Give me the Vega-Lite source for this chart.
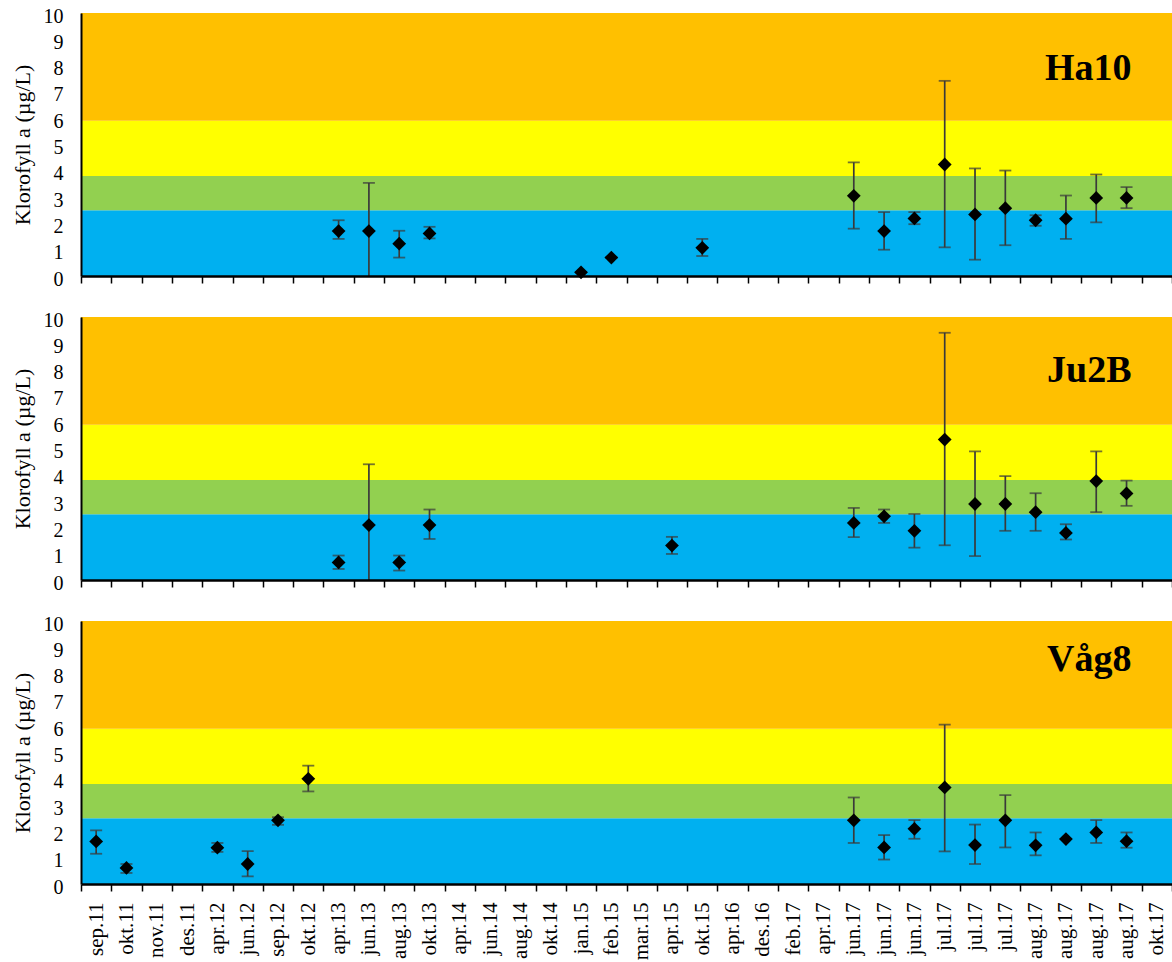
{
  "$schema": "https://vega.github.io/schema/vega-lite/v6.json",
  "padding": {"left": 11, "top": 6, "right": 0, "bottom": 0},
  "autosize": {"type": "pad"},
  "bounds": "flush",
  "spacing": 41,
  "config": {
    "view": {"stroke": null},
    "font": "Liberation Serif",
    "axis": {"grid": false, "zindex": 1, "labelColor": "black", "titleColor": "black", "labelFont": "Liberation Serif", "titleFont": "Liberation Serif", "domainColor": "black"}
  },
  "datasets": {
    "bands": [
      {"klasse": "I", "lo": 0, "hi": 2.5},
      {"klasse": "II", "lo": 2.5, "hi": 3.8},
      {"klasse": "III", "lo": 3.8, "hi": 5.9},
      {"klasse": "IV", "lo": 5.9, "hi": 10}
    ],
    "obs": [
      {"station": "Ha10", "sample": "apr.13", "v": 1.71, "lo": 1.41, "hi": 2.12},
      {"station": "Ha10", "sample": "jun.13", "v": 1.71, "lo": -0.12, "hi": 3.54},
      {"station": "Ha10", "sample": "aug.13", "v": 1.23, "lo": 0.70, "hi": 1.72},
      {"station": "Ha10", "sample": "okt.13", "v": 1.62, "lo": 1.43, "hi": 1.87},
      {"station": "Ha10", "sample": "jan.15", "v": 0.14, "lo": 0.14, "hi": 0.14},
      {"station": "Ha10", "sample": "feb.15", "v": 0.70, "lo": 0.70, "hi": 0.70},
      {"station": "Ha10", "sample": "okt.15", "v": 1.07, "lo": 0.76, "hi": 1.41},
      {"station": "Ha10", "sample": "jun.17 a", "v": 3.05, "lo": 1.80, "hi": 4.32},
      {"station": "Ha10", "sample": "jun.17 b", "v": 1.71, "lo": 1.00, "hi": 2.43},
      {"station": "Ha10", "sample": "jun.17 c", "v": 2.19, "lo": 1.97, "hi": 2.43},
      {"station": "Ha10", "sample": "jul.17 a", "v": 4.24, "lo": 1.09, "hi": 7.42},
      {"station": "Ha10", "sample": "jul.17 b", "v": 2.34, "lo": 0.62, "hi": 4.09},
      {"station": "Ha10", "sample": "jul.17 c", "v": 2.58, "lo": 1.17, "hi": 4.01},
      {"station": "Ha10", "sample": "aug.17 a", "v": 2.12, "lo": 1.91, "hi": 2.31},
      {"station": "Ha10", "sample": "aug.17 b", "v": 2.18, "lo": 1.41, "hi": 3.06},
      {"station": "Ha10", "sample": "aug.17 c", "v": 2.97, "lo": 2.04, "hi": 3.86},
      {"station": "Ha10", "sample": "aug.17 d", "v": 2.97, "lo": 2.58, "hi": 3.38},
      {"station": "Ju2B", "sample": "apr.13", "v": 0.67, "lo": 0.42, "hi": 0.93},
      {"station": "Ju2B", "sample": "jun.13", "v": 2.09, "lo": -0.22, "hi": 4.40},
      {"station": "Ju2B", "sample": "aug.13", "v": 0.67, "lo": 0.36, "hi": 0.93},
      {"station": "Ju2B", "sample": "okt.13", "v": 2.09, "lo": 1.56, "hi": 2.68},
      {"station": "Ju2B", "sample": "apr.15", "v": 1.31, "lo": 0.99, "hi": 1.64},
      {"station": "Ju2B", "sample": "jun.17 a", "v": 2.17, "lo": 1.63, "hi": 2.74},
      {"station": "Ju2B", "sample": "jun.17 b", "v": 2.42, "lo": 2.17, "hi": 2.68},
      {"station": "Ju2B", "sample": "jun.17 c", "v": 1.87, "lo": 1.23, "hi": 2.51},
      {"station": "Ju2B", "sample": "jul.17 a", "v": 5.34, "lo": 1.32, "hi": 9.40},
      {"station": "Ju2B", "sample": "jul.17 b", "v": 2.89, "lo": 0.91, "hi": 4.89},
      {"station": "Ju2B", "sample": "jul.17 c", "v": 2.89, "lo": 1.87, "hi": 3.95},
      {"station": "Ju2B", "sample": "aug.17 a", "v": 2.58, "lo": 1.87, "hi": 3.30},
      {"station": "Ju2B", "sample": "aug.17 b", "v": 1.79, "lo": 1.54, "hi": 2.12},
      {"station": "Ju2B", "sample": "aug.17 c", "v": 3.76, "lo": 2.58, "hi": 4.89},
      {"station": "Ju2B", "sample": "aug.17 d", "v": 3.29, "lo": 2.82, "hi": 3.78},
      {"station": "Våg8", "sample": "sep.11", "v": 1.62, "lo": 1.15, "hi": 2.04},
      {"station": "Våg8", "sample": "okt.11", "v": 0.61, "lo": 0.42, "hi": 0.76},
      {"station": "Våg8", "sample": "apr.12", "v": 1.38, "lo": 1.22, "hi": 1.56},
      {"station": "Våg8", "sample": "jun.12", "v": 0.76, "lo": 0.29, "hi": 1.25},
      {"station": "Våg8", "sample": "sep.12", "v": 2.42, "lo": 2.25, "hi": 2.54},
      {"station": "Våg8", "sample": "okt.12", "v": 4.00, "lo": 3.52, "hi": 4.50},
      {"station": "Våg8", "sample": "jun.17 a", "v": 2.42, "lo": 1.56, "hi": 3.29},
      {"station": "Våg8", "sample": "jun.17 b", "v": 1.39, "lo": 0.93, "hi": 1.86},
      {"station": "Våg8", "sample": "jun.17 c", "v": 2.10, "lo": 1.72, "hi": 2.43},
      {"station": "Våg8", "sample": "jul.17 a", "v": 3.67, "lo": 1.24, "hi": 6.06},
      {"station": "Våg8", "sample": "jul.17 b", "v": 1.48, "lo": 0.76, "hi": 2.26},
      {"station": "Våg8", "sample": "jul.17 c", "v": 2.42, "lo": 1.39, "hi": 3.38},
      {"station": "Våg8", "sample": "aug.17 a", "v": 1.47, "lo": 1.09, "hi": 1.96},
      {"station": "Våg8", "sample": "aug.17 b", "v": 1.71, "lo": 1.71, "hi": 1.71},
      {"station": "Våg8", "sample": "aug.17 c", "v": 1.96, "lo": 1.56, "hi": 2.43},
      {"station": "Våg8", "sample": "aug.17 d", "v": 1.63, "lo": 1.38, "hi": 1.96}
    ]
  },
  "vconcat": [
    {
      "width": 1091, "height": 263,
      "layer": [
        {"data": {"name": "bands"}, "mark": {"type": "rect"},
         "encoding": {
           "y": {"field": "lo", "type": "quantitative", "scale": {"domain": [0, 10], "nice": false, "zero": true}, "axis": {"title": "Klorofyll a (µg/L)", "values": [0,1,2,3,4,5,6,7,8,9,10], "labelOverlap": false, "ticks": false, "labelPadding": 18, "labelOffset": 3, "labelFontSize": 20, "labelFont": "Liberation Serif", "labelColor": "black", "titleFont": "Liberation Serif", "titleFontSize": 22, "titleFontWeight": "normal", "titleColor": "black", "titlePadding": 9, "domainColor": "black", "domainWidth": 2, "grid": false, "zindex": 1}},
           "y2": {"field": "hi"},
           "color": {"field": "klasse", "type": "nominal", "scale": {"domain": ["I","II","III","IV"], "range": ["#00B0F0","#92D050","#FFFF00","#FFC000"]}, "legend": null}}},
        {"data": {"name": "obs"}, "transform": [{"filter": "datum.station === 'Ha10'"}],
         "mark": {"type": "rule", "clip": true, "color": "#3a3a3a", "strokeWidth": 1.7},
         "encoding": {
           "x": {"field": "sample", "type": "ordinal", "scale": {"type": "band", "paddingInner": 0, "paddingOuter": 0, "domain": ["sep.11","okt.11","nov.11","des.11","apr.12","jun.12","sep.12","okt.12","apr.13","jun.13","aug.13","okt.13","apr.14","jun.14","aug.14","okt.14","jan.15","feb.15","mar.15","apr.15","okt.15","apr.16","des.16","feb.17","apr.17","jun.17 a","jun.17 b","jun.17 c","jul.17 a","jul.17 b","jul.17 c","aug.17 a","aug.17 b","aug.17 c","aug.17 d","okt.17"]}, "axis": {"title": null, "labels": false, "tickBand": "extent", "tickSize": 7, "tickColor": "black", "tickWidth": 1.5, "domainColor": "black", "domainWidth": 2.5, "grid": false, "zindex": 1}},
           "y": {"field": "lo", "type": "quantitative", "axis": {"title": "Klorofyll a (µg/L)", "values": [0,1,2,3,4,5,6,7,8,9,10], "labelOverlap": false, "ticks": false, "labelPadding": 18, "labelOffset": 3, "labelFontSize": 20, "labelFont": "Liberation Serif", "labelColor": "black", "titleFont": "Liberation Serif", "titleFontSize": 22, "titleFontWeight": "normal", "titleColor": "black", "titlePadding": 9, "domainColor": "black", "domainWidth": 2, "grid": false, "zindex": 1}},
           "y2": {"field": "hi"}}},
        {"data": {"name": "obs"}, "transform": [{"filter": "datum.station === 'Ha10'"}],
         "mark": {"type": "tick", "clip": true, "color": "#3a3a3a", "size": 12, "thickness": 1.8},
         "encoding": {"x": {"field": "sample", "type": "ordinal", "axis": {"title": null, "labels": false, "tickBand": "extent", "tickSize": 7, "tickColor": "black", "tickWidth": 1.5, "domainColor": "black", "domainWidth": 2.5, "grid": false, "zindex": 1}}, "y": {"field": "lo", "type": "quantitative", "axis": {"title": "Klorofyll a (µg/L)", "values": [0,1,2,3,4,5,6,7,8,9,10], "labelOverlap": false, "ticks": false, "labelPadding": 18, "labelOffset": 3, "labelFontSize": 20, "labelFont": "Liberation Serif", "labelColor": "black", "titleFont": "Liberation Serif", "titleFontSize": 22, "titleFontWeight": "normal", "titleColor": "black", "titlePadding": 9, "domainColor": "black", "domainWidth": 2, "grid": false, "zindex": 1}}}},
        {"data": {"name": "obs"}, "transform": [{"filter": "datum.station === 'Ha10'"}],
         "mark": {"type": "tick", "clip": true, "color": "#3a3a3a", "size": 12, "thickness": 1.8},
         "encoding": {"x": {"field": "sample", "type": "ordinal", "axis": {"title": null, "labels": false, "tickBand": "extent", "tickSize": 7, "tickColor": "black", "tickWidth": 1.5, "domainColor": "black", "domainWidth": 2.5, "grid": false, "zindex": 1}}, "y": {"field": "hi", "type": "quantitative", "axis": {"title": "Klorofyll a (µg/L)", "values": [0,1,2,3,4,5,6,7,8,9,10], "labelOverlap": false, "ticks": false, "labelPadding": 18, "labelOffset": 3, "labelFontSize": 20, "labelFont": "Liberation Serif", "labelColor": "black", "titleFont": "Liberation Serif", "titleFontSize": 22, "titleFontWeight": "normal", "titleColor": "black", "titlePadding": 9, "domainColor": "black", "domainWidth": 2, "grid": false, "zindex": 1}}}},
        {"data": {"name": "obs"}, "transform": [{"filter": "datum.station === 'Ha10'"}],
         "mark": {"type": "point", "shape": "diamond", "filled": true, "color": "black", "opacity": 1, "size": 190},
         "encoding": {"x": {"field": "sample", "type": "ordinal", "axis": {"title": null, "labels": false, "tickBand": "extent", "tickSize": 7, "tickColor": "black", "tickWidth": 1.5, "domainColor": "black", "domainWidth": 2.5, "grid": false, "zindex": 1}}, "y": {"field": "v", "type": "quantitative", "axis": {"title": "Klorofyll a (µg/L)", "values": [0,1,2,3,4,5,6,7,8,9,10], "labelOverlap": false, "ticks": false, "labelPadding": 18, "labelOffset": 3, "labelFontSize": 20, "labelFont": "Liberation Serif", "labelColor": "black", "titleFont": "Liberation Serif", "titleFontSize": 22, "titleFontWeight": "normal", "titleColor": "black", "titlePadding": 9, "domainColor": "black", "domainWidth": 2, "grid": false, "zindex": 1}}}},
        {"data": {"values": [{}]},
         "mark": {"type": "text", "text": "Ha10", "font": "Liberation Serif", "fontWeight": "bold", "fontSize": 38, "align": "right", "baseline": "alphabetic", "dx": 5, "color": "black"},
         "encoding": {"x": {"datum": "aug.17 d", "type": "ordinal", "axis": {"title": null, "labels": false, "tickBand": "extent", "tickSize": 7, "tickColor": "black", "tickWidth": 1.5, "domainColor": "black", "domainWidth": 2.5, "grid": false, "zindex": 1}}, "y": {"datum": 7.44, "type": "quantitative", "axis": {"title": "Klorofyll a (µg/L)", "values": [0,1,2,3,4,5,6,7,8,9,10], "labelOverlap": false, "ticks": false, "labelPadding": 18, "labelOffset": 3, "labelFontSize": 20, "labelFont": "Liberation Serif", "labelColor": "black", "titleFont": "Liberation Serif", "titleFontSize": 22, "titleFontWeight": "normal", "titleColor": "black", "titlePadding": 9, "domainColor": "black", "domainWidth": 2, "grid": false, "zindex": 1}}}}
      ]
    },
    {
      "width": 1091, "height": 263,
      "layer": [
        {"data": {"name": "bands"}, "mark": {"type": "rect"},
         "encoding": {
           "y": {"field": "lo", "type": "quantitative", "scale": {"domain": [0, 10], "nice": false, "zero": true}, "axis": {"title": "Klorofyll a (µg/L)", "values": [0,1,2,3,4,5,6,7,8,9,10], "labelOverlap": false, "ticks": false, "labelPadding": 18, "labelOffset": 3, "labelFontSize": 20, "labelFont": "Liberation Serif", "labelColor": "black", "titleFont": "Liberation Serif", "titleFontSize": 22, "titleFontWeight": "normal", "titleColor": "black", "titlePadding": 9, "domainColor": "black", "domainWidth": 2, "grid": false, "zindex": 1}},
           "y2": {"field": "hi"},
           "color": {"field": "klasse", "type": "nominal", "scale": {"domain": ["I","II","III","IV"], "range": ["#00B0F0","#92D050","#FFFF00","#FFC000"]}, "legend": null}}},
        {"data": {"name": "obs"}, "transform": [{"filter": "datum.station === 'Ju2B'"}],
         "mark": {"type": "rule", "clip": true, "color": "#3a3a3a", "strokeWidth": 1.7},
         "encoding": {
           "x": {"field": "sample", "type": "ordinal", "scale": {"type": "band", "paddingInner": 0, "paddingOuter": 0, "domain": ["sep.11","okt.11","nov.11","des.11","apr.12","jun.12","sep.12","okt.12","apr.13","jun.13","aug.13","okt.13","apr.14","jun.14","aug.14","okt.14","jan.15","feb.15","mar.15","apr.15","okt.15","apr.16","des.16","feb.17","apr.17","jun.17 a","jun.17 b","jun.17 c","jul.17 a","jul.17 b","jul.17 c","aug.17 a","aug.17 b","aug.17 c","aug.17 d","okt.17"]}, "axis": {"title": null, "labels": false, "tickBand": "extent", "tickSize": 7, "tickColor": "black", "tickWidth": 1.5, "domainColor": "black", "domainWidth": 2.5, "grid": false, "zindex": 1}},
           "y": {"field": "lo", "type": "quantitative", "axis": {"title": "Klorofyll a (µg/L)", "values": [0,1,2,3,4,5,6,7,8,9,10], "labelOverlap": false, "ticks": false, "labelPadding": 18, "labelOffset": 3, "labelFontSize": 20, "labelFont": "Liberation Serif", "labelColor": "black", "titleFont": "Liberation Serif", "titleFontSize": 22, "titleFontWeight": "normal", "titleColor": "black", "titlePadding": 9, "domainColor": "black", "domainWidth": 2, "grid": false, "zindex": 1}},
           "y2": {"field": "hi"}}},
        {"data": {"name": "obs"}, "transform": [{"filter": "datum.station === 'Ju2B'"}],
         "mark": {"type": "tick", "clip": true, "color": "#3a3a3a", "size": 12, "thickness": 1.8},
         "encoding": {"x": {"field": "sample", "type": "ordinal", "axis": {"title": null, "labels": false, "tickBand": "extent", "tickSize": 7, "tickColor": "black", "tickWidth": 1.5, "domainColor": "black", "domainWidth": 2.5, "grid": false, "zindex": 1}}, "y": {"field": "lo", "type": "quantitative", "axis": {"title": "Klorofyll a (µg/L)", "values": [0,1,2,3,4,5,6,7,8,9,10], "labelOverlap": false, "ticks": false, "labelPadding": 18, "labelOffset": 3, "labelFontSize": 20, "labelFont": "Liberation Serif", "labelColor": "black", "titleFont": "Liberation Serif", "titleFontSize": 22, "titleFontWeight": "normal", "titleColor": "black", "titlePadding": 9, "domainColor": "black", "domainWidth": 2, "grid": false, "zindex": 1}}}},
        {"data": {"name": "obs"}, "transform": [{"filter": "datum.station === 'Ju2B'"}],
         "mark": {"type": "tick", "clip": true, "color": "#3a3a3a", "size": 12, "thickness": 1.8},
         "encoding": {"x": {"field": "sample", "type": "ordinal", "axis": {"title": null, "labels": false, "tickBand": "extent", "tickSize": 7, "tickColor": "black", "tickWidth": 1.5, "domainColor": "black", "domainWidth": 2.5, "grid": false, "zindex": 1}}, "y": {"field": "hi", "type": "quantitative", "axis": {"title": "Klorofyll a (µg/L)", "values": [0,1,2,3,4,5,6,7,8,9,10], "labelOverlap": false, "ticks": false, "labelPadding": 18, "labelOffset": 3, "labelFontSize": 20, "labelFont": "Liberation Serif", "labelColor": "black", "titleFont": "Liberation Serif", "titleFontSize": 22, "titleFontWeight": "normal", "titleColor": "black", "titlePadding": 9, "domainColor": "black", "domainWidth": 2, "grid": false, "zindex": 1}}}},
        {"data": {"name": "obs"}, "transform": [{"filter": "datum.station === 'Ju2B'"}],
         "mark": {"type": "point", "shape": "diamond", "filled": true, "color": "black", "opacity": 1, "size": 190},
         "encoding": {"x": {"field": "sample", "type": "ordinal", "axis": {"title": null, "labels": false, "tickBand": "extent", "tickSize": 7, "tickColor": "black", "tickWidth": 1.5, "domainColor": "black", "domainWidth": 2.5, "grid": false, "zindex": 1}}, "y": {"field": "v", "type": "quantitative", "axis": {"title": "Klorofyll a (µg/L)", "values": [0,1,2,3,4,5,6,7,8,9,10], "labelOverlap": false, "ticks": false, "labelPadding": 18, "labelOffset": 3, "labelFontSize": 20, "labelFont": "Liberation Serif", "labelColor": "black", "titleFont": "Liberation Serif", "titleFontSize": 22, "titleFontWeight": "normal", "titleColor": "black", "titlePadding": 9, "domainColor": "black", "domainWidth": 2, "grid": false, "zindex": 1}}}},
        {"data": {"values": [{}]},
         "mark": {"type": "text", "text": "Ju2B", "font": "Liberation Serif", "fontWeight": "bold", "fontSize": 38, "align": "right", "baseline": "alphabetic", "dx": 5, "color": "black"},
         "encoding": {"x": {"datum": "aug.17 d", "type": "ordinal", "axis": {"title": null, "labels": false, "tickBand": "extent", "tickSize": 7, "tickColor": "black", "tickWidth": 1.5, "domainColor": "black", "domainWidth": 2.5, "grid": false, "zindex": 1}}, "y": {"datum": 7.53, "type": "quantitative", "axis": {"title": "Klorofyll a (µg/L)", "values": [0,1,2,3,4,5,6,7,8,9,10], "labelOverlap": false, "ticks": false, "labelPadding": 18, "labelOffset": 3, "labelFontSize": 20, "labelFont": "Liberation Serif", "labelColor": "black", "titleFont": "Liberation Serif", "titleFontSize": 22, "titleFontWeight": "normal", "titleColor": "black", "titlePadding": 9, "domainColor": "black", "domainWidth": 2, "grid": false, "zindex": 1}}}}
      ]
    },
    {
      "width": 1091, "height": 263,
      "layer": [
        {"data": {"name": "bands"}, "mark": {"type": "rect"},
         "encoding": {
           "y": {"field": "lo", "type": "quantitative", "scale": {"domain": [0, 10], "nice": false, "zero": true}, "axis": {"title": "Klorofyll a (µg/L)", "values": [0,1,2,3,4,5,6,7,8,9,10], "labelOverlap": false, "ticks": false, "labelPadding": 18, "labelOffset": 3, "labelFontSize": 20, "labelFont": "Liberation Serif", "labelColor": "black", "titleFont": "Liberation Serif", "titleFontSize": 22, "titleFontWeight": "normal", "titleColor": "black", "titlePadding": 9, "domainColor": "black", "domainWidth": 2, "grid": false, "zindex": 1}},
           "y2": {"field": "hi"},
           "color": {"field": "klasse", "type": "nominal", "scale": {"domain": ["I","II","III","IV"], "range": ["#00B0F0","#92D050","#FFFF00","#FFC000"]}, "legend": null}}},
        {"data": {"name": "obs"}, "transform": [{"filter": "datum.station === 'Våg8'"}],
         "mark": {"type": "rule", "clip": true, "color": "#3a3a3a", "strokeWidth": 1.7},
         "encoding": {
           "x": {"field": "sample", "type": "ordinal", "scale": {"type": "band", "paddingInner": 0, "paddingOuter": 0, "domain": ["sep.11","okt.11","nov.11","des.11","apr.12","jun.12","sep.12","okt.12","apr.13","jun.13","aug.13","okt.13","apr.14","jun.14","aug.14","okt.14","jan.15","feb.15","mar.15","apr.15","okt.15","apr.16","des.16","feb.17","apr.17","jun.17 a","jun.17 b","jun.17 c","jul.17 a","jul.17 b","jul.17 c","aug.17 a","aug.17 b","aug.17 c","aug.17 d","okt.17"]}, "axis": {"title": null, "labels": true, "labelAngle": -90, "labelFontSize": 21, "labelFont": "Liberation Serif", "labelColor": "black", "labelPadding": 11, "labelOverlap": false, "labelExpr": "datum.value ? split(datum.value, ' ')[0] : ''", "tickBand": "extent", "tickSize": 7, "tickColor": "black", "tickWidth": 1.5, "domainColor": "black", "domainWidth": 2.5, "grid": false, "zindex": 1}},
           "y": {"field": "lo", "type": "quantitative", "axis": {"title": "Klorofyll a (µg/L)", "values": [0,1,2,3,4,5,6,7,8,9,10], "labelOverlap": false, "ticks": false, "labelPadding": 18, "labelOffset": 3, "labelFontSize": 20, "labelFont": "Liberation Serif", "labelColor": "black", "titleFont": "Liberation Serif", "titleFontSize": 22, "titleFontWeight": "normal", "titleColor": "black", "titlePadding": 9, "domainColor": "black", "domainWidth": 2, "grid": false, "zindex": 1}},
           "y2": {"field": "hi"}}},
        {"data": {"name": "obs"}, "transform": [{"filter": "datum.station === 'Våg8'"}],
         "mark": {"type": "tick", "clip": true, "color": "#3a3a3a", "size": 12, "thickness": 1.8},
         "encoding": {"x": {"field": "sample", "type": "ordinal", "axis": {"title": null, "labels": true, "labelAngle": -90, "labelFontSize": 21, "labelFont": "Liberation Serif", "labelColor": "black", "labelPadding": 11, "labelOverlap": false, "labelExpr": "datum.value ? split(datum.value, ' ')[0] : ''", "tickBand": "extent", "tickSize": 7, "tickColor": "black", "tickWidth": 1.5, "domainColor": "black", "domainWidth": 2.5, "grid": false, "zindex": 1}}, "y": {"field": "lo", "type": "quantitative", "axis": {"title": "Klorofyll a (µg/L)", "values": [0,1,2,3,4,5,6,7,8,9,10], "labelOverlap": false, "ticks": false, "labelPadding": 18, "labelOffset": 3, "labelFontSize": 20, "labelFont": "Liberation Serif", "labelColor": "black", "titleFont": "Liberation Serif", "titleFontSize": 22, "titleFontWeight": "normal", "titleColor": "black", "titlePadding": 9, "domainColor": "black", "domainWidth": 2, "grid": false, "zindex": 1}}}},
        {"data": {"name": "obs"}, "transform": [{"filter": "datum.station === 'Våg8'"}],
         "mark": {"type": "tick", "clip": true, "color": "#3a3a3a", "size": 12, "thickness": 1.8},
         "encoding": {"x": {"field": "sample", "type": "ordinal", "axis": {"title": null, "labels": true, "labelAngle": -90, "labelFontSize": 21, "labelFont": "Liberation Serif", "labelColor": "black", "labelPadding": 11, "labelOverlap": false, "labelExpr": "datum.value ? split(datum.value, ' ')[0] : ''", "tickBand": "extent", "tickSize": 7, "tickColor": "black", "tickWidth": 1.5, "domainColor": "black", "domainWidth": 2.5, "grid": false, "zindex": 1}}, "y": {"field": "hi", "type": "quantitative", "axis": {"title": "Klorofyll a (µg/L)", "values": [0,1,2,3,4,5,6,7,8,9,10], "labelOverlap": false, "ticks": false, "labelPadding": 18, "labelOffset": 3, "labelFontSize": 20, "labelFont": "Liberation Serif", "labelColor": "black", "titleFont": "Liberation Serif", "titleFontSize": 22, "titleFontWeight": "normal", "titleColor": "black", "titlePadding": 9, "domainColor": "black", "domainWidth": 2, "grid": false, "zindex": 1}}}},
        {"data": {"name": "obs"}, "transform": [{"filter": "datum.station === 'Våg8'"}],
         "mark": {"type": "point", "shape": "diamond", "filled": true, "color": "black", "opacity": 1, "size": 190},
         "encoding": {"x": {"field": "sample", "type": "ordinal", "axis": {"title": null, "labels": true, "labelAngle": -90, "labelFontSize": 21, "labelFont": "Liberation Serif", "labelColor": "black", "labelPadding": 11, "labelOverlap": false, "labelExpr": "datum.value ? split(datum.value, ' ')[0] : ''", "tickBand": "extent", "tickSize": 7, "tickColor": "black", "tickWidth": 1.5, "domainColor": "black", "domainWidth": 2.5, "grid": false, "zindex": 1}}, "y": {"field": "v", "type": "quantitative", "axis": {"title": "Klorofyll a (µg/L)", "values": [0,1,2,3,4,5,6,7,8,9,10], "labelOverlap": false, "ticks": false, "labelPadding": 18, "labelOffset": 3, "labelFontSize": 20, "labelFont": "Liberation Serif", "labelColor": "black", "titleFont": "Liberation Serif", "titleFontSize": 22, "titleFontWeight": "normal", "titleColor": "black", "titlePadding": 9, "domainColor": "black", "domainWidth": 2, "grid": false, "zindex": 1}}}},
        {"data": {"values": [{}]},
         "mark": {"type": "text", "text": "Våg8", "font": "Liberation Serif", "fontWeight": "bold", "fontSize": 38, "align": "right", "baseline": "alphabetic", "dx": 5, "color": "black"},
         "encoding": {"x": {"datum": "aug.17 d", "type": "ordinal", "axis": {"title": null, "labels": true, "labelAngle": -90, "labelFontSize": 21, "labelFont": "Liberation Serif", "labelColor": "black", "labelPadding": 11, "labelOverlap": false, "labelExpr": "datum.value ? split(datum.value, ' ')[0] : ''", "tickBand": "extent", "tickSize": 7, "tickColor": "black", "tickWidth": 1.5, "domainColor": "black", "domainWidth": 2.5, "grid": false, "zindex": 1}}, "y": {"datum": 8.1, "type": "quantitative", "axis": {"title": "Klorofyll a (µg/L)", "values": [0,1,2,3,4,5,6,7,8,9,10], "labelOverlap": false, "ticks": false, "labelPadding": 18, "labelOffset": 3, "labelFontSize": 20, "labelFont": "Liberation Serif", "labelColor": "black", "titleFont": "Liberation Serif", "titleFontSize": 22, "titleFontWeight": "normal", "titleColor": "black", "titlePadding": 9, "domainColor": "black", "domainWidth": 2, "grid": false, "zindex": 1}}}}
      ]
    }
  ]
}
